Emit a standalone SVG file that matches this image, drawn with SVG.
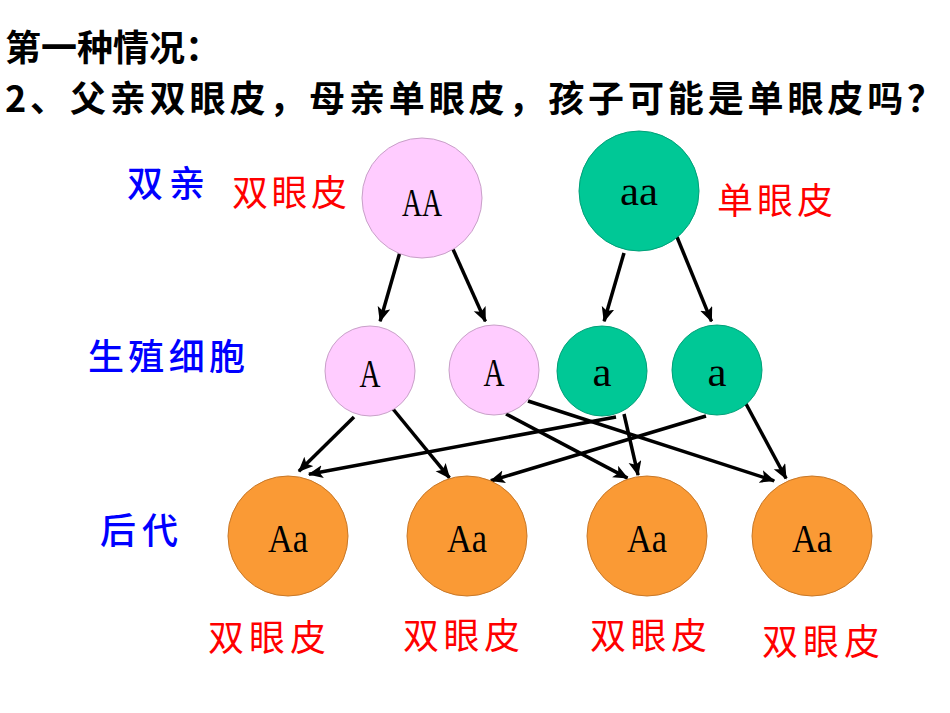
<svg xmlns="http://www.w3.org/2000/svg" width="950" height="713" viewBox="0 0 950 713">
<defs>
<marker id="ah" markerUnits="userSpaceOnUse" markerWidth="17" markerHeight="14" refX="14" refY="6.5" orient="auto">
<path d="M0,0 L15,6.5 L0,13 L3.5,6.5 Z" fill="#000"/>
</marker>
</defs>
<style>
.cjk{font-family:"Noto Sans CJK SC","Noto Sans CJK TC",sans-serif}
.title{font-size:36px;fill:#000;font-weight:bold}
.blue{font-size:36px;fill:#0000FF;font-weight:500}
.red{font-size:36px;fill:#FF0000}
.gene{font-family:"Liberation Serif","DejaVu Serif",serif;font-size:39px;fill:#000;text-anchor:middle}
.pink{fill:#FFCCFF;stroke:#C8A0C8;stroke-width:1}
.green{fill:#00C896;stroke:#00A078;stroke-width:1}
.orange{fill:#FA9A35;stroke:#C87828;stroke-width:1}
.arr{stroke:#000;stroke-width:3.5;fill:none;marker-end:url(#ah)}
</style>
<rect width="950" height="713" fill="#fff"/>
<g id="title">
<text class="cjk title" x="5" y="61">第一种情况：</text>
<text class="cjk title" x="5" y="112" textLength="938" lengthAdjust="spacing">2、父亲双眼皮，母亲单眼皮，孩子可能是单眼皮吗？</text>
</g>
<g id="row-labels">
<text class="cjk blue" x="127" y="197" textLength="78">双亲</text>
<text class="cjk blue" x="88" y="370" textLength="157">生殖细胞</text>
<text class="cjk blue" x="100" y="544" textLength="78">后代</text>
</g>
<g id="connectors">
<line class="arr" x1="400" y1="252" x2="380.1" y2="321.2"/>
<line class="arr" x1="452" y1="247" x2="485.4" y2="321.4"/>
<line class="arr" x1="624" y1="253" x2="604.1" y2="321.2"/>
<line class="arr" x1="677" y1="237" x2="711.5" y2="321.3"/>
<line class="arr" x1="354" y1="417" x2="298.9" y2="471.2"/>
<line class="arr" x1="393" y1="409" x2="449.5" y2="477.9"/>
<line class="arr" x1="616" y1="417" x2="308.9" y2="474.3"/>
<line class="arr" x1="706" y1="416" x2="490.8" y2="480.8"/>
<line class="arr" x1="506" y1="414" x2="627.5" y2="478.1"/>
<line class="arr" x1="528" y1="401" x2="774.2" y2="480.8"/>
<line class="arr" x1="624" y1="414" x2="638.1" y2="475.1"/>
<line class="arr" x1="745" y1="402" x2="786.1" y2="478.5"/>
</g>
<g id="father">
<circle class="pink" cx="422" cy="198" r="60"/>
<text class="gene" x="422" y="216" textLength="40" lengthAdjust="spacingAndGlyphs">AA</text>
<text class="cjk red" x="232" y="206" textLength="115">双眼皮</text>
</g>
<g id="mother">
<circle class="green" cx="639" cy="191" r="60"/>
<text class="gene" x="639" y="205" textLength="38" lengthAdjust="spacingAndGlyphs">aa</text>
<text class="cjk red" x="717" y="214" textLength="116">单眼皮</text>
</g>
<g id="gamete-A1">
<circle class="pink" cx="370" cy="371" r="45"/>
<text class="gene" x="370" y="387" textLength="21" lengthAdjust="spacingAndGlyphs">A</text>
</g>
<g id="gamete-A2">
<circle class="pink" cx="494" cy="370" r="45"/>
<text class="gene" x="494" y="386" textLength="21" lengthAdjust="spacingAndGlyphs">A</text>
</g>
<g id="gamete-a1">
<circle class="green" cx="602" cy="371" r="45"/>
<text class="gene" x="602" y="386" textLength="19" lengthAdjust="spacingAndGlyphs">a</text>
</g>
<g id="gamete-a2">
<circle class="green" cx="717" cy="370" r="45"/>
<text class="gene" x="717" y="386" textLength="19" lengthAdjust="spacingAndGlyphs">a</text>
</g>
<g id="child1">
<circle class="orange" cx="288" cy="536" r="60"/>
<text class="gene" x="288" y="552" textLength="40" lengthAdjust="spacingAndGlyphs">Aa</text>
<text class="cjk red" x="208" y="651" textLength="118">双眼皮</text>
</g>
<g id="child2">
<circle class="orange" cx="467" cy="536" r="60"/>
<text class="gene" x="467" y="552" textLength="40" lengthAdjust="spacingAndGlyphs">Aa</text>
<text class="cjk red" x="403" y="649" textLength="117">双眼皮</text>
</g>
<g id="child3">
<circle class="orange" cx="647" cy="536" r="60"/>
<text class="gene" x="647" y="552" textLength="40" lengthAdjust="spacingAndGlyphs">Aa</text>
<text class="cjk red" x="590" y="649" textLength="117">双眼皮</text>
</g>
<g id="child4">
<circle class="orange" cx="812" cy="536" r="60"/>
<text class="gene" x="812" y="552" textLength="40" lengthAdjust="spacingAndGlyphs">Aa</text>
<text class="cjk red" x="762" y="655" textLength="118">双眼皮</text>
</g>
</svg>
